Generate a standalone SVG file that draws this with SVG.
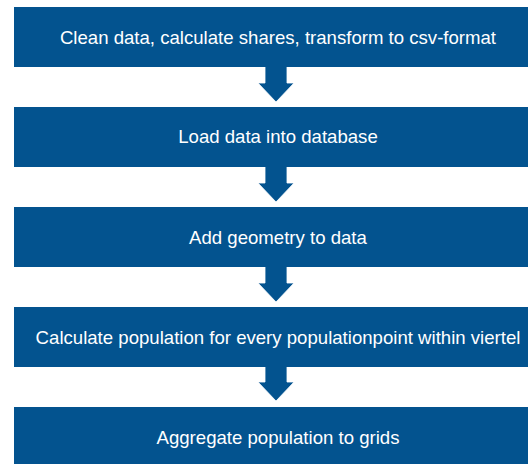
<svg xmlns="http://www.w3.org/2000/svg" width="528" height="464" viewBox="0 0 528 464">
<style>
.box{fill:#03538f}
.lbl{fill:#ffffff;font-family:"Liberation Sans",Arial,sans-serif;font-size:18.6px;text-anchor:middle}
.arr{fill:#03538f;stroke:#ffffff;stroke-width:0.8}
</style>
<rect width="528" height="464" fill="#ffffff"/>
<g id="connectors">
<path class="arr" d="M265,66 H287 V83 H294 L276,102 L258,83 H265 Z"/>
<path class="arr" d="M265,166 H287 V183 H294 L276,202 L258,183 H265 Z"/>
<path class="arr" d="M265,266 H287 V283 H294 L276,302 L258,283 H265 Z"/>
<path class="arr" d="M265,366 H287 V382 H294 L276,401 L258,382 H265 Z"/>
</g>
<g id="n1"><rect class="box" x="14" y="7" width="530" height="60"/><text class="lbl" x="278" y="44">Clean data, calculate shares, transform to csv-format</text></g>
<g id="n2"><rect class="box" x="14" y="107" width="530" height="60"/><text class="lbl" x="278" y="143">Load data into database</text></g>
<g id="n3"><rect class="box" x="14" y="207" width="530" height="60"/><text class="lbl" x="278" y="244">Add geometry to data</text></g>
<g id="n4"><rect class="box" x="14" y="307" width="530" height="60"/><text class="lbl" x="278" y="344">Calculate population for every populationpoint within viertel</text></g>
<g id="n5"><rect class="box" x="14" y="407" width="530" height="60"/><text class="lbl" x="278" y="444">Aggregate population to grids</text></g>
</svg>
